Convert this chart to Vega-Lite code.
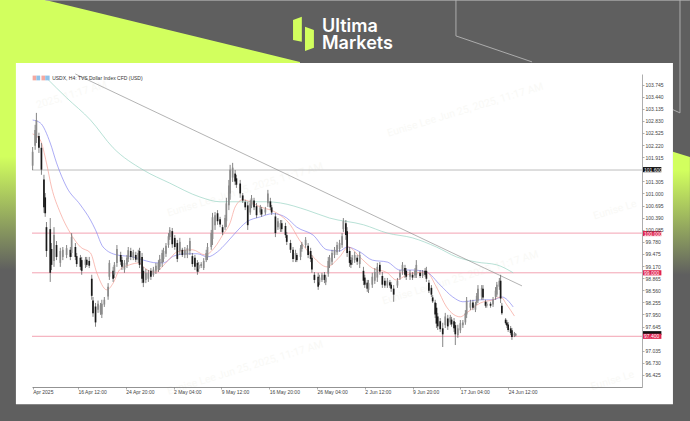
{
"$schema":"https://vega.github.io/schema/vega-lite/v6.json",
"width":610,"height":313,"autosize":{"type":"none"},
"padding":{"left":32,"top":74,"right":48,"bottom":34},
"background":"#5f5f5f",
"config":{"view":{"stroke":null},"font":"Liberation Sans"},
"resolve":{"scale":{"color":"independent"}},
"datasets":{
"limeLeft":[{"b":-26,"p":105.878,"p2":99.07},{"b":9.8,"p":105.878,"p2":99.07},{"b":212.5,"p":104.315,"p2":99.07}],
"limeRight":[{"b":509,"p":102.05,"p2":98.95},{"b":522.5,"p":101.92,"p2":98.95}],
"logoA":[{"b":207,"p":105.37,"p2":104.87},{"b":214,"p":105.45,"p2":104.82}],
"logoB":[{"b":216.5,"p":105.2,"p2":104.59},{"b":223.6,"p":105.12,"p2":104.67}],
"logoText":[{"b":230,"p":105.07,"t":"Ultima"},{"b":230,"p":104.64,"t":"Markets"}],
"deco":[
{"d":"a","n":1,"b":336.5,"p":105.878},{"d":"a","n":2,"b":336.5,"p":104.97},{"d":"a","n":3,"b":397,"p":104.315},
{"d":"b","n":1,"b":514.6,"p":105.878},{"d":"b","n":2,"b":514.6,"p":103.03},{"d":"b","n":3,"b":509,"p":103.11},
{"d":"c","n":1,"b":10,"p":105.87},{"d":"c","n":2,"b":522.5,"p":105.87}],
"panel":[{"b":-13.3,"b2":509,"p":104.29,"p2":95.69}],
"water":[
{"b":169,"p":101.09,"t":"Eunise Lee Jun 25, 2025, 11:17 AM"},
{"b":340,"p":98.87,"t":"Eunise Lee Jun 25, 2025, 11:17 AM"},
{"b":169,"p":96.6,"t":"Eunise Lee Jun 25, 2025, 11:17 AM"},
{"b":344,"p":103.1,"t":"Eunise Lee Jun 25, 2025, 11:17 AM"},
{"b":31,"p":103.48,"t":"2025, 11:17 AM"},
{"b":463,"p":100.58,"t":"Eunise Le"},
{"b":461,"p":96.28,"t":"Eunise Le"}],
"levels":[
{"b":-0.5,"b2":484.4,"p":101.59,"lv":"grey"},
{"b":-0.5,"b2":484.4,"p":100.0,"lv":"pink"},
{"b":-0.5,"b2":484.4,"p":99.0,"lv":"pink"},
{"b":-0.5,"b2":484.4,"p":97.4,"lv":"pink"}],
"ma":[
{"s":"green","b":11,"p":103.91},{"s":"green","b":27,"p":103.41},{"s":"green","b":46,"p":102.85},{"s":"green","b":64,"p":102.15},{"s":"green","b":88,"p":101.59},{"s":"green","b":109,"p":101.26},{"s":"green","b":133,"p":100.91},{"s":"green","b":149,"p":100.79},{"s":"green","b":165,"p":100.79},{"s":"green","b":186,"p":100.79},{"s":"green","b":197,"p":100.76},{"s":"green","b":218,"p":100.58},{"s":"green","b":236,"p":100.38},{"s":"green","b":263,"p":100.21},{"s":"green","b":282,"p":100.0},{"s":"green","b":302,"p":99.88},{"s":"green","b":321,"p":99.65},{"s":"green","b":337,"p":99.4},{"s":"green","b":353,"p":99.27},{"s":"green","b":369,"p":99.2},{"s":"green","b":382,"p":99.0},
{"s":"blue","b":0,"p":102.85},{"s":"blue","b":6,"p":102.78},{"s":"blue","b":14,"p":102.27},{"s":"blue","b":19,"p":101.77},{"s":"blue","b":27,"p":101.16},{"s":"blue","b":38,"p":100.71},{"s":"blue","b":46,"p":100.33},{"s":"blue","b":50,"p":100.08},{"s":"blue","b":56,"p":99.65},{"s":"blue","b":67,"p":99.45},{"s":"blue","b":80,"p":99.4},{"s":"blue","b":88,"p":99.32},{"s":"blue","b":99,"p":99.25},{"s":"blue","b":104,"p":99.25},{"s":"blue","b":112,"p":99.42},{"s":"blue","b":123,"p":99.48},{"s":"blue","b":131,"p":99.48},{"s":"blue","b":139,"p":99.4},{"s":"blue","b":147,"p":99.53},{"s":"blue","b":154,"p":99.75},{"s":"blue","b":161,"p":100.0},{"s":"blue","b":170,"p":100.28},{"s":"blue","b":181,"p":100.41},{"s":"blue","b":191,"p":100.49},{"s":"blue","b":197,"p":100.46},{"s":"blue","b":202,"p":100.38},{"s":"blue","b":210,"p":100.15},{"s":"blue","b":223,"p":99.95},{"s":"blue","b":234,"p":99.58},{"s":"blue","b":244,"p":99.55},{"s":"blue","b":250,"p":99.65},{"s":"blue","b":260,"p":99.53},{"s":"blue","b":270,"p":99.32},{"s":"blue","b":282,"p":99.27},{"s":"blue","b":292,"p":99.07},{"s":"blue","b":302,"p":99.07},{"s":"blue","b":313,"p":99.02},{"s":"blue","b":324,"p":98.69},{"s":"blue","b":334,"p":98.39},{"s":"blue","b":342,"p":98.27},{"s":"blue","b":356,"p":98.32},{"s":"blue","b":366,"p":98.32},{"s":"blue","b":373,"p":98.39},{"s":"blue","b":382,"p":98.14},
{"s":"red","b":0,"p":102.5},{"s":"red","b":6,"p":102.35},{"s":"red","b":11,"p":101.77},{"s":"red","b":15,"p":101.16},{"s":"red","b":22,"p":100.51},{"s":"red","b":30,"p":100.0},{"s":"red","b":38,"p":99.65},{"s":"red","b":46,"p":99.5},{"s":"red","b":51,"p":99.0},{"s":"red","b":59,"p":98.57},{"s":"red","b":64,"p":98.74},{"s":"red","b":69,"p":99.07},{"s":"red","b":77,"p":99.2},{"s":"red","b":85,"p":99.25},{"s":"red","b":89,"p":99.12},{"s":"red","b":97,"p":99.02},{"s":"red","b":108,"p":99.32},{"s":"red","b":115,"p":99.53},{"s":"red","b":127,"p":99.58},{"s":"red","b":137,"p":99.45},{"s":"red","b":145,"p":99.65},{"s":"red","b":151,"p":99.95},{"s":"red","b":157,"p":100.26},{"s":"red","b":161,"p":100.66},{"s":"red","b":167,"p":100.84},{"s":"red","b":181,"p":100.66},{"s":"red","b":194,"p":100.51},{"s":"red","b":205,"p":100.2},{"s":"red","b":212,"p":99.83},{"s":"red","b":223,"p":99.4},{"s":"red","b":234,"p":99.15},{"s":"red","b":244,"p":99.4},{"s":"red","b":251,"p":99.65},{"s":"red","b":260,"p":99.4},{"s":"red","b":270,"p":99.12},{"s":"red","b":282,"p":99.0},{"s":"red","b":289,"p":98.82},{"s":"red","b":298,"p":98.95},{"s":"red","b":313,"p":99.02},{"s":"red","b":321,"p":98.64},{"s":"red","b":329,"p":98.14},{"s":"red","b":340,"p":97.89},{"s":"red","b":345,"p":97.99},{"s":"red","b":356,"p":98.24},{"s":"red","b":366,"p":98.32},{"s":"red","b":372,"p":98.39},{"s":"red","b":377,"p":98.19},{"s":"red","b":383,"p":97.91},
{"s":"trend","b":34,"p":104.01},{"s":"trend","b":389,"p":98.67}],
"bars":[
{"b":0,"h":102.17,"l":101.59,"o":101.7,"c":102.05},{"b":2,"h":102.73,"l":102.1,"o":102.2,"c":102.6},{"b":3,"h":103.03,"l":102.27,"o":102.4,"c":102.85},{"b":5,"h":102.53,"l":102.02,"o":102.45,"c":102.15},{"b":7,"h":102.27,"l":101.47,"o":102.15,"c":101.6},{"b":9,"h":101.47,"l":100.51,"o":101.35,"c":100.65},{"b":10,"h":101.01,"l":100.41,"o":100.9,"c":100.5},{"b":11,"h":100.28,"l":99.4,"o":100.15,"c":99.55},{"b":14,"h":100.38,"l":98.77,"o":100.1,"c":99.0},{"b":15,"h":99.75,"l":99.07,"o":99.6,"c":99.2},{"b":17,"h":100.15,"l":99.15,"o":99.3,"c":99.95},{"b":19,"h":99.8,"l":99.32,"o":99.7,"c":99.4},{"b":22,"h":99.63,"l":99.15,"o":99.25,"c":99.55},{"b":24,"h":99.65,"l":99.32,"o":99.4,"c":99.58},{"b":27,"h":99.7,"l":99.37,"o":99.45,"c":99.62},{"b":30,"h":99.65,"l":99.32,"o":99.58,"c":99.4},{"b":31,"h":100.0,"l":99.4,"o":99.5,"c":99.9},{"b":34,"h":99.75,"l":99.32,"o":99.65,"c":99.4},{"b":35,"h":99.5,"l":99.15,"o":99.42,"c":99.22},{"b":38,"h":99.45,"l":99.07,"o":99.38,"c":99.15},{"b":39,"h":99.4,"l":98.95,"o":99.32,"c":99.05},{"b":42,"h":99.4,"l":99.12,"o":99.2,"c":99.33},{"b":43,"h":99.4,"l":99.15,"o":99.33,"c":99.2},{"b":45,"h":99.4,"l":99.12,"o":99.3,"c":99.18},{"b":47,"h":98.95,"l":98.32,"o":98.85,"c":98.42},{"b":48,"h":98.39,"l":97.89,"o":98.3,"c":97.98},{"b":50,"h":98.24,"l":97.64,"o":98.15,"c":97.75},{"b":52,"h":98.3,"l":97.99,"o":98.07,"c":98.22},{"b":54,"h":98.24,"l":97.94,"o":98.0,"c":98.18},{"b":55,"h":98.32,"l":97.86,"o":97.95,"c":98.22},{"b":57,"h":98.39,"l":98.14,"o":98.2,"c":98.32},{"b":60,"h":98.74,"l":98.32,"o":98.4,"c":98.65},{"b":61,"h":99.32,"l":98.82,"o":98.9,"c":99.25},{"b":64,"h":99.15,"l":98.77,"o":99.05,"c":98.85},{"b":65,"h":99.27,"l":98.87,"o":98.95,"c":99.2},{"b":67,"h":99.7,"l":99.15,"o":99.25,"c":99.6},{"b":70,"h":99.53,"l":99.2,"o":99.45,"c":99.28},{"b":71,"h":99.4,"l":99.07,"o":99.32,"c":99.15},{"b":73,"h":99.32,"l":99.0,"o":99.08,"c":99.25},{"b":75,"h":99.45,"l":99.12,"o":99.2,"c":99.38},{"b":76,"h":99.65,"l":99.27,"o":99.35,"c":99.57},{"b":78,"h":99.63,"l":99.32,"o":99.55,"c":99.4},{"b":80,"h":99.58,"l":99.32,"o":99.38,"c":99.52},{"b":82,"h":99.53,"l":99.27,"o":99.45,"c":99.33},{"b":84,"h":99.58,"l":99.25,"o":99.32,"c":99.5},{"b":85,"h":99.63,"l":99.12,"o":99.55,"c":99.2},{"b":87,"h":99.5,"l":98.74,"o":99.4,"c":98.85},{"b":88,"h":99.15,"l":98.64,"o":99.05,"c":98.75},{"b":90,"h":99.1,"l":98.74,"o":98.82,"c":99.0},{"b":92,"h":99.07,"l":98.77,"o":98.85,"c":99.0},{"b":94,"h":99.12,"l":98.82,"o":99.05,"c":98.9},{"b":96,"h":99.15,"l":98.9,"o":98.95,"c":99.08},{"b":98,"h":99.25,"l":98.97,"o":99.05,"c":99.18},{"b":100,"h":99.32,"l":99.02,"o":99.08,"c":99.25},{"b":101,"h":99.45,"l":99.07,"o":99.15,"c":99.35},{"b":103,"h":99.58,"l":99.15,"o":99.25,"c":99.5},{"b":104,"h":99.63,"l":99.27,"o":99.35,"c":99.55},{"b":106,"h":99.75,"l":99.4,"o":99.48,"c":99.68},{"b":108,"h":100.0,"l":99.63,"o":99.7,"c":99.92},{"b":109,"h":100.15,"l":99.83,"o":99.9,"c":100.08},{"b":111,"h":100.13,"l":99.63,"o":100.05,"c":99.72},{"b":113,"h":99.95,"l":99.58,"o":99.88,"c":99.65},{"b":115,"h":99.83,"l":99.27,"o":99.75,"c":99.35},{"b":117,"h":99.88,"l":99.45,"o":99.55,"c":99.78},{"b":119,"h":99.63,"l":99.4,"o":99.58,"c":99.45},{"b":121,"h":99.65,"l":99.37,"o":99.45,"c":99.58},{"b":123,"h":99.7,"l":99.37,"o":99.45,"c":99.62},{"b":125,"h":99.88,"l":99.45,"o":99.55,"c":99.8},{"b":127,"h":99.5,"l":99.15,"o":99.42,"c":99.22},{"b":129,"h":99.45,"l":99.07,"o":99.38,"c":99.15},{"b":131,"h":99.32,"l":98.95,"o":99.25,"c":99.03},{"b":132,"h":99.27,"l":99.02,"o":99.1,"c":99.2},{"b":134,"h":99.27,"l":99.12,"o":99.17,"c":99.22},{"b":136,"h":99.37,"l":99.07,"o":99.12,"c":99.3},{"b":138,"h":99.58,"l":99.27,"o":99.32,"c":99.5},{"b":139,"h":99.75,"l":99.32,"o":99.4,"c":99.65},{"b":142,"h":100.08,"l":99.58,"o":99.65,"c":100.0},{"b":143,"h":100.51,"l":99.7,"o":99.85,"c":100.4},{"b":145,"h":100.53,"l":100.08,"o":100.2,"c":100.45},{"b":147,"h":100.58,"l":100.21,"o":100.5,"c":100.3},{"b":149,"h":100.41,"l":100.15,"o":100.35,"c":100.22},{"b":151,"h":100.21,"l":99.95,"o":100.15,"c":100.02},{"b":153,"h":100.46,"l":100.08,"o":100.15,"c":100.38},{"b":154,"h":100.89,"l":100.15,"o":100.3,"c":100.75},{"b":156,"h":101.34,"l":100.58,"o":100.7,"c":101.2},{"b":157,"h":101.72,"l":100.84,"o":101.0,"c":101.6},{"b":159,"h":101.77,"l":101.29,"o":101.4,"c":101.65},{"b":161,"h":101.59,"l":101.21,"o":101.5,"c":101.3},{"b":162,"h":101.47,"l":101.14,"o":101.38,"c":101.22},{"b":165,"h":101.34,"l":100.89,"o":101.25,"c":101.0},{"b":167,"h":101.01,"l":100.76,"o":100.95,"c":100.82},{"b":169,"h":100.84,"l":100.58,"o":100.78,"c":100.65},{"b":171,"h":100.79,"l":100.08,"o":100.7,"c":100.2},{"b":173,"h":100.84,"l":100.46,"o":100.52,"c":100.75},{"b":174,"h":100.96,"l":100.63,"o":100.7,"c":100.88},{"b":176,"h":100.89,"l":100.58,"o":100.82,"c":100.65},{"b":178,"h":100.76,"l":100.38,"o":100.68,"c":100.45},{"b":181,"h":100.71,"l":100.46,"o":100.52,"c":100.65},{"b":182,"h":100.66,"l":100.41,"o":100.6,"c":100.47},{"b":185,"h":100.66,"l":100.46,"o":100.52,"c":100.6},{"b":187,"h":101.09,"l":100.66,"o":100.75,"c":101.0},{"b":189,"h":100.89,"l":100.58,"o":100.8,"c":100.65},{"b":190,"h":100.71,"l":100.46,"o":100.65,"c":100.52},{"b":193,"h":100.51,"l":99.9,"o":100.42,"c":100.0},{"b":195,"h":100.38,"l":100.08,"o":100.15,"c":100.3},{"b":197,"h":100.33,"l":100.03,"o":100.1,"c":100.25},{"b":198,"h":100.33,"l":100.03,"o":100.25,"c":100.1},{"b":201,"h":100.26,"l":99.88,"o":100.18,"c":99.95},{"b":202,"h":100.03,"l":99.7,"o":99.95,"c":99.78},{"b":205,"h":99.83,"l":99.5,"o":99.75,"c":99.58},{"b":207,"h":99.65,"l":99.27,"o":99.58,"c":99.35},{"b":209,"h":99.58,"l":99.27,"o":99.35,"c":99.5},{"b":210,"h":99.5,"l":99.27,"o":99.45,"c":99.32},{"b":213,"h":99.7,"l":99.32,"o":99.4,"c":99.62},{"b":214,"h":99.78,"l":99.53,"o":99.6,"c":99.72},{"b":217,"h":99.9,"l":99.63,"o":99.7,"c":99.83},{"b":219,"h":99.75,"l":99.37,"o":99.68,"c":99.45},{"b":221,"h":99.63,"l":99.27,"o":99.55,"c":99.35},{"b":222,"h":99.45,"l":99.0,"o":99.38,"c":99.08},{"b":224,"h":99.02,"l":98.74,"o":98.95,"c":98.82},{"b":227,"h":99.0,"l":98.57,"o":98.9,"c":98.65},{"b":228,"h":98.95,"l":98.69,"o":98.76,"c":98.88},{"b":230,"h":99.0,"l":98.77,"o":98.82,"c":98.95},{"b":232,"h":99.02,"l":98.74,"o":98.95,"c":98.82},{"b":233,"h":98.95,"l":98.69,"o":98.76,"c":98.88},{"b":235,"h":99.4,"l":98.9,"o":98.98,"c":99.3},{"b":236,"h":99.45,"l":99.12,"o":99.2,"c":99.38},{"b":238,"h":99.58,"l":99.2,"o":99.28,"c":99.5},{"b":240,"h":99.65,"l":99.37,"o":99.45,"c":99.58},{"b":242,"h":99.78,"l":99.45,"o":99.52,"c":99.7},{"b":244,"h":99.83,"l":99.53,"o":99.6,"c":99.75},{"b":246,"h":100.0,"l":99.63,"o":99.7,"c":99.92},{"b":247,"h":100.38,"l":100.03,"o":100.1,"c":100.3},{"b":249,"h":100.33,"l":99.83,"o":100.25,"c":99.95},{"b":250,"h":100.15,"l":99.4,"o":100.05,"c":99.5},{"b":252,"h":99.65,"l":99.15,"o":99.55,"c":99.25},{"b":253,"h":99.4,"l":99.12,"o":99.32,"c":99.2},{"b":254,"h":99.45,"l":99.2,"o":99.25,"c":99.38},{"b":256,"h":99.53,"l":99.25,"o":99.32,"c":99.45},{"b":258,"h":99.45,"l":99.2,"o":99.38,"c":99.28},{"b":260,"h":99.53,"l":99.12,"o":99.22,"c":99.45},{"b":263,"h":99.15,"l":98.69,"o":99.05,"c":98.8},{"b":264,"h":98.95,"l":98.62,"o":98.88,"c":98.7},{"b":266,"h":98.82,"l":98.52,"o":98.75,"c":98.6},{"b":267,"h":98.82,"l":98.49,"o":98.57,"c":98.74},{"b":270,"h":99.0,"l":98.62,"o":98.7,"c":98.9},{"b":272,"h":99.12,"l":98.72,"o":98.8,"c":99.02},{"b":274,"h":99.25,"l":98.77,"o":98.88,"c":99.15},{"b":276,"h":99.27,"l":98.95,"o":99.2,"c":99.03},{"b":278,"h":99.02,"l":98.62,"o":98.92,"c":98.7},{"b":280,"h":98.87,"l":98.62,"o":98.8,"c":98.68},{"b":282,"h":98.87,"l":98.62,"o":98.68,"c":98.8},{"b":284,"h":98.82,"l":98.62,"o":98.76,"c":98.68},{"b":285,"h":98.77,"l":98.52,"o":98.7,"c":98.6},{"b":287,"h":98.69,"l":98.27,"o":98.6,"c":98.45},{"b":290,"h":98.87,"l":98.62,"o":98.68,"c":98.8},{"b":292,"h":99.07,"l":98.82,"o":98.88,"c":99.0},{"b":294,"h":99.27,"l":98.95,"o":99.03,"c":99.2},{"b":296,"h":99.2,"l":98.87,"o":99.12,"c":98.95},{"b":297,"h":99.12,"l":98.82,"o":99.05,"c":98.9},{"b":300,"h":99.07,"l":98.82,"o":98.9,"c":99.0},{"b":302,"h":99.02,"l":98.82,"o":98.95,"c":98.88},{"b":304,"h":99.12,"l":98.87,"o":98.93,"c":99.05},{"b":305,"h":99.32,"l":98.87,"o":98.95,"c":99.2},{"b":308,"h":99.07,"l":98.87,"o":99.0,"c":98.92},{"b":310,"h":99.07,"l":98.87,"o":98.92,"c":99.0},{"b":312,"h":99.12,"l":98.9,"o":99.05,"c":98.95},{"b":313,"h":99.15,"l":98.77,"o":99.05,"c":98.85},{"b":315,"h":98.82,"l":98.49,"o":98.75,"c":98.55},{"b":317,"h":98.69,"l":98.39,"o":98.62,"c":98.45},{"b":318,"h":98.44,"l":98.24,"o":98.38,"c":98.28},{"b":320,"h":98.32,"l":97.86,"o":98.25,"c":97.95},{"b":321,"h":98.24,"l":97.61,"o":98.12,"c":97.72},{"b":322,"h":97.99,"l":97.56,"o":97.9,"c":97.65},{"b":324,"h":97.86,"l":97.51,"o":97.78,"c":97.58},{"b":326,"h":97.74,"l":97.13,"o":97.6,"c":97.45},{"b":328,"h":97.99,"l":97.61,"o":97.68,"c":97.9},{"b":330,"h":97.94,"l":97.56,"o":97.85,"c":97.65},{"b":332,"h":97.94,"l":97.69,"o":97.75,"c":97.88},{"b":333,"h":97.89,"l":97.64,"o":97.82,"c":97.7},{"b":335,"h":97.86,"l":97.51,"o":97.78,"c":97.6},{"b":336,"h":97.76,"l":97.18,"o":97.68,"c":97.45},{"b":338,"h":97.69,"l":97.36,"o":97.43,"c":97.6},{"b":340,"h":97.81,"l":97.48,"o":97.55,"c":97.73},{"b":342,"h":97.81,"l":97.61,"o":97.68,"c":97.75},{"b":344,"h":98.06,"l":97.69,"o":97.75,"c":97.98},{"b":345,"h":98.39,"l":97.86,"o":97.95,"c":98.3},{"b":348,"h":98.32,"l":98.06,"o":98.12,"c":98.25},{"b":350,"h":98.32,"l":98.06,"o":98.25,"c":98.12},{"b":352,"h":98.27,"l":98.01,"o":98.07,"c":98.2},{"b":353,"h":98.49,"l":98.19,"o":98.25,"c":98.42},{"b":354,"h":98.69,"l":98.24,"o":98.3,"c":98.6},{"b":357,"h":98.69,"l":98.32,"o":98.4,"c":98.62},{"b":358,"h":98.69,"l":98.32,"o":98.6,"c":98.38},{"b":360,"h":98.32,"l":98.12,"o":98.27,"c":98.17},{"b":361,"h":98.27,"l":98.12,"o":98.17,"c":98.22},{"b":364,"h":98.27,"l":98.12,"o":98.22,"c":98.17},{"b":366,"h":98.39,"l":98.14,"o":98.2,"c":98.32},{"b":368,"h":98.64,"l":98.32,"o":98.4,"c":98.55},{"b":369,"h":98.77,"l":98.39,"o":98.45,"c":98.7},{"b":371,"h":98.87,"l":98.57,"o":98.65,"c":98.8},{"b":372,"h":98.95,"l":98.24,"o":98.8,"c":98.35},{"b":373,"h":98.24,"l":97.94,"o":98.17,"c":97.98},{"b":376,"h":97.86,"l":97.69,"o":97.82,"c":97.73},{"b":377,"h":97.81,"l":97.61,"o":97.75,"c":97.67},{"b":378,"h":97.76,"l":97.51,"o":97.7,"c":97.56},{"b":380,"h":97.66,"l":97.43,"o":97.6,"c":97.48},{"b":381,"h":97.61,"l":97.31,"o":97.55,"c":97.38},{"b":383,"h":97.51,"l":97.38,"o":97.42,"c":97.47},{"b":384,"h":97.48,"l":97.4,"o":97.42,"c":97.46}],
"boxes":[
{"b":485.2,"b2":499.8,"p":101.665,"p2":101.535,"m":101.6,"k":"black","tx":"101.600"},
{"b":485.2,"b2":499.8,"p":100.055,"p2":99.925,"m":99.985,"k":"red","tx":"100.000"},
{"b":485.2,"b2":499.8,"p":99.065,"p2":98.935,"m":99.0,"k":"red","tx":"99.000"},
{"b":485.2,"b2":499.8,"p":97.53,"p2":97.43,"m":97.48,"k":"black","tx":""},
{"b":485.2,"b2":499.8,"p":97.465,"p2":97.335,"m":97.4,"k":"red","tx":"97.400"}],
"legendIcons":[{"b":0,"b2":3,"p":103.97,"p2":103.85,"k":"#f4a9a0"},{"b":3,"b2":6,"p":103.97,"p2":103.85,"k":"#8fc2ea"},{"b":7,"b2":10,"p":103.97,"p2":103.85,"k":"#f4a9a0"},{"b":10,"b2":13.5,"p":103.97,"p2":103.85,"k":"#8fc2ea"}],
"legendText":[{"b":15.5,"p":103.91,"t":"USDX, H4: TVS Dollar Index CFD (USD)"}]
},
"encoding":{
"x":{"field":"b","type":"quantitative","title":null,"scale":{"domain":[-0.5,484.4],"nice":false,"zero":false},
"axis":{"zindex":1,"values":[0,36,74,112,150,188,226,264,302,340,378],"labelExpr":"['Apr 2025','16 Apr 12:00','24 Apr 20:00','2 May 04:00','9 May 12:00','16 May 20:00','26 May 04:00','2 Jun 12:00','9 Jun 20:00','17 Jun 04:00','24 Jun 12:00'][indexof([0,36,74,112,150,188,226,264,302,340,378],datum.value)]","labelFontSize":5,"labelColor":"#444","labelAlign":"left","labelPadding":0,"labelOverlap":false,"labelFlush":false,"tickSize":2,"tickColor":"#777","tickWidth":0.6,"domainColor":"#777","domainWidth":0.8,"grid":false}},
"y":{"field":"p","type":"quantitative","title":null,"scale":{"domain":[96.122,104.01],"nice":false,"zero":false},
"axis":{"zindex":1,"orient":"right","values":[96.425,96.73,97.035,97.645,97.95,98.255,98.56,98.865,99.17,99.475,99.78,100.085,100.39,100.695,101.0,101.305,101.915,102.22,102.525,102.83,103.135,103.44,103.745],"format":".3f","labelFontSize":5,"labelColor":"#444","labelPadding":1,"labelOverlap":false,"labelFlush":false,"tickSize":2,"tickColor":"#777","tickWidth":0.6,"domainColor":"#999","domainWidth":0.8,"grid":false}}
},
"layer":[
{"data":{"name":"limeLeft"},"mark":{"type":"area","color":{"gradient":"linear","x1":0,"y1":0,"x2":0,"y2":1,"stops":[{"offset":0,"color":"#d2ff5e"},{"offset":0.58,"color":"#d2ff5e"},{"offset":1,"color":"#5f5f5f"}]}},"encoding":{"y2":{"field":"p2"}}},
{"data":{"name":"limeRight"},"mark":{"type":"area","color":{"gradient":"linear","x1":0,"y1":0,"x2":0,"y2":1,"stops":[{"offset":0,"color":"#d2ff5e"},{"offset":0.15,"color":"#d2ff5e"},{"offset":1,"color":"#5f5f5f"}]}},"encoding":{"y2":{"field":"p2"}}},
{"data":{"name":"logoA"},"mark":{"type":"area","color":"#d2ff5e"},"encoding":{"y2":{"field":"p2"}}},
{"data":{"name":"logoB"},"mark":{"type":"area","color":"#d2ff5e"},"encoding":{"y2":{"field":"p2"}}},
{"data":{"name":"logoText"},"mark":{"type":"text","font":"Inter","fontWeight":600,"fontSize":18,"color":"#ffffff","align":"left","baseline":"alphabetic","lineHeight":17},"encoding":{"text":{"field":"t"}}},
{"data":{"name":"deco"},"mark":{"type":"line","color":"#b4b4b4","strokeWidth":0.9},"encoding":{"detail":{"field":"d"},"order":{"field":"n"}}},
{"data":{"name":"panel"},"mark":{"type":"rect","color":"#ffffff"},"encoding":{"x2":{"field":"b2"},"y2":{"field":"p2"}}},
{"data":{"name":"water"},"mark":{"type":"text","font":"Roboto","fontSize":10.5,"angle":343,"color":"#f9f9f6"},"encoding":{"text":{"field":"t"}}},
{"data":{"name":"levels"},"mark":{"type":"rule"},"encoding":{"x2":{"field":"b2"},"color":{"field":"lv","type":"nominal","legend":null,"scale":{"domain":["grey","pink"],"range":["#bdbdbd","#f3a3b2"]}},"strokeWidth":{"value":1}}},
{"data":{"name":"ma"},"mark":{"type":"line","strokeWidth":0.65,"interpolate":"monotone"},"encoding":{"detail":{"field":"s"},"color":{"field":"s","type":"nominal","legend":null,"scale":{"domain":["green","blue","red","trend"],"range":["#92d0bf","#7f7ff0","#f59a90","#8a8a8a"]}}}},
{"data":{"name":"bars"},"mark":{"type":"rule","color":"#666666","strokeWidth":0.8},"encoding":{"y":{"field":"h","type":"quantitative"},"y2":{"field":"l"}}},
{"data":{"name":"bars"},"mark":{"type":"rule","strokeWidth":1.7},"encoding":{"y":{"field":"o","type":"quantitative"},"y2":{"field":"c"},"color":{"condition":{"test":"datum.c<datum.o","value":"#1a1a1a"},"value":"#8c8c8c"}}},
{"data":{"name":"boxes"},"mark":{"type":"rect"},"encoding":{"x2":{"field":"b2"},"y2":{"field":"p2"},"color":{"field":"k","type":"nominal","legend":null,"scale":{"domain":["black","red"],"range":["#111111","#e0244f"]}}}},
{"data":{"name":"boxes"},"mark":{"type":"text","fontSize":5,"color":"#ffffff","align":"left","dx":1,"baseline":"middle"},"encoding":{"y":{"field":"m","type":"quantitative"},"text":{"field":"tx"}}},
{"data":{"name":"legendIcons"},"mark":{"type":"rect"},"encoding":{"x2":{"field":"b2"},"y2":{"field":"p2"},"color":{"field":"k","type":"nominal","legend":null,"scale":null}}},
{"data":{"name":"legendText"},"mark":{"type":"text","fontSize":5,"color":"#333333","align":"left","baseline":"middle"},"encoding":{"text":{"field":"t"}}}
]
}
